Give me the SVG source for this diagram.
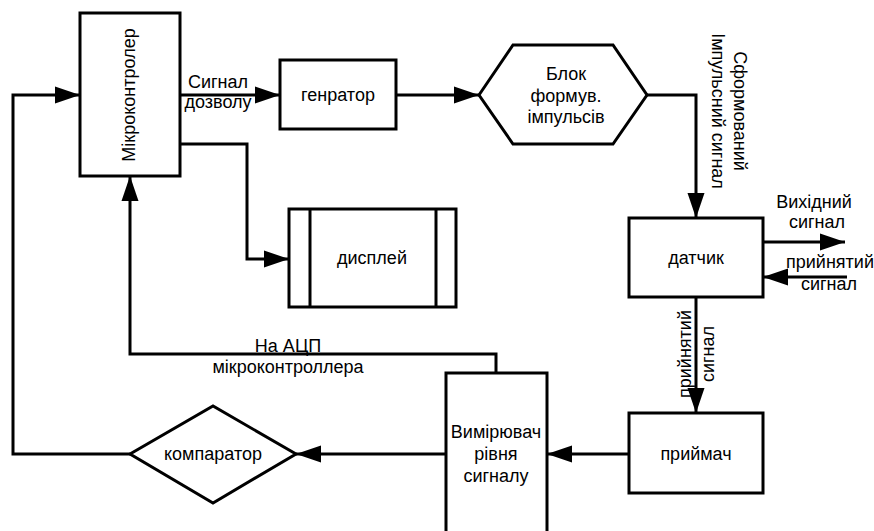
<svg xmlns="http://www.w3.org/2000/svg" width="874" height="531" viewBox="0 0 874 531">
<style>
.b{fill:#fff;stroke:#000;stroke-width:3}
.c{fill:none;stroke:#000;stroke-width:3;marker-end:url(#ah)}
.n{fill:none;stroke:#000;stroke-width:3}
text{font-family:"Liberation Sans",Arial,sans-serif;font-size:18px;fill:#000;text-anchor:middle}
</style>
<defs>
<marker id="ah" markerUnits="userSpaceOnUse" markerWidth="26" markerHeight="18" refX="25" refY="9" orient="auto">
<path d="M0,0.5 L25,9 L0,17.5 z" fill="#000"/>
</marker>
</defs>
<rect width="874" height="531" fill="#fff"/>
<g id="connectors">
<polyline class="c" points="130,454 13,454 13,95 80,95"/>
<polyline class="c" points="180,95 280,95"/>
<polyline class="c" points="396,95 479,95"/>
<polyline class="c" points="647,95 696,95 696,218"/>
<polyline class="c" points="763,242 845,242"/>
<polyline class="c" points="847,277 763,277"/>
<polyline class="c" points="696,297 696,413"/>
<polyline class="c" points="629,454 547,454"/>
<polyline class="c" points="446,454 296,454"/>
<polyline class="c" points="496,373 496,354 130,354 130,176"/>
<polyline class="c" points="180,144 247,144 247,259 289,259"/>
<text x="218" y="88">Сигнал</text>
<text x="218" y="108">дозволу</text>
<text transform="translate(734,111) rotate(90)">Сформований</text>
<text transform="translate(712,111) rotate(90)">Імпульсний сигнал</text>
<text x="814" y="208">Вихідний</text>
<text x="817" y="228">сигнал</text>
<text x="830" y="268">прийнятий</text>
<text x="829" y="290">сигнал</text>
<text transform="translate(691,354) rotate(-90)">прийнятий</text>
<text transform="translate(714,354) rotate(-90)">сигнал</text>
<text x="288" y="352">На АЦП</text>
<text x="288" y="373">мікроконтроллера</text>
</g>
<g id="mikrokontroler">
<rect class="b" x="80" y="13" width="100" height="163"/>
<text transform="translate(135,95) rotate(-90)">Мікроконтролер</text>
</g>
<g id="generator">
<rect class="b" x="280" y="60" width="116" height="69"/>
<text x="338" y="101">генратор</text>
</g>
<g id="blok">
<polygon class="b" points="479,95 513,45 613,45 647,95 613,144 513,144"/>
<text x="566" y="80">Блок</text>
<text x="566" y="102">формув.</text>
<text x="566" y="123">імпульсів</text>
</g>
<g id="datchik">
<rect class="b" x="629" y="218" width="134" height="79"/>
<text x="696" y="264">датчик</text>
</g>
<g id="dysplei">
<rect class="b" x="289" y="209" width="167" height="98"/>
<line class="n" x1="310" y1="209" x2="310" y2="307"/>
<line class="n" x1="436" y1="209" x2="436" y2="307"/>
<text x="372" y="264">дисплей</text>
</g>
<g id="pryimach">
<rect class="b" x="629" y="413" width="134" height="80"/>
<text x="696" y="460">приймач</text>
</g>
<g id="vymiriuvach">
<rect class="b" x="446" y="373" width="101" height="170"/>
<text x="496" y="438">Вимірювач</text>
<text x="496" y="460">рівня</text>
<text x="496" y="482">сигналу</text>
</g>
<g id="komparator">
<polygon class="b" points="130,454 213,406 296,454 213,503"/>
<text x="213" y="460">компаратор</text>
</g>
</svg>
